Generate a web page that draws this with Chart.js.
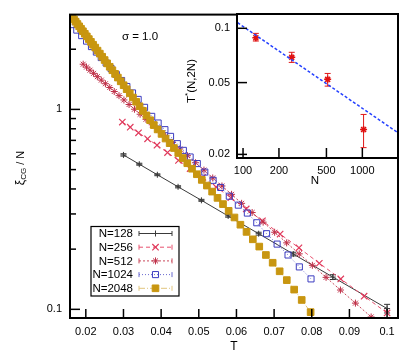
<!DOCTYPE html>
<html><head><meta charset="utf-8">
<script src="https://cdn.jsdelivr.net/npm/chart.js@4/dist/chart.umd.min.js"></script>
<style>
html,body{margin:0;padding:0;background:#fff;}
#wrap{position:relative;width:415px;height:356px;overflow:hidden;}
#wrap canvas{position:absolute;left:0;top:0;}
#inset{pointer-events:none;}
</style></head><body>
<div id="wrap"><canvas id="main" width="415" height="356"></canvas><canvas id="inset" width="415" height="356"></canvas></div>
<script>
// ---------------- data (main plot) ----------------
const seriesLabels = ['N=128','N=256','N=512','N=1024','N=2048'];

const T128 = [0.0300,0.0342,0.0390,0.0445,0.0507,0.0578,0.0659,0.0751,0.0856,0.1000];
const Y128 = [0.592,0.532,0.471,0.410,0.351,0.293,0.239,0.189,0.145,0.1009];
const E128 = [0.008,0.006,0.005,0.005,0.004,0.004,0.004,0.004,0.004,0.005];

const T256 = [0.0297,0.0318,0.0340,0.0364,0.0389,0.0417,0.0446,0.0477,0.0510,0.0546,0.0585,0.0626,0.0669,0.0716,0.0766,0.0820,0.0877,0.0939,0.1000];
const Y256 = [0.864,0.815,0.764,0.713,0.662,0.608,0.556,0.506,0.457,0.409,0.362,0.318,0.277,0.238,0.203,0.170,0.142,0.1164,0.0959];

const T512 = [0.01930,0.02018,0.02110,0.02206,0.02306,0.02411,0.02521,0.02635,0.02755,0.02881,0.03012,0.03149,0.03292,0.03442,0.03598,0.03762,0.03933,0.04112,0.04299,0.04495,0.04699,0.04913,0.05137,0.05370,0.05615,0.05870,0.06137,0.06417,0.06709,0.07014,0.07333,0.07667,0.08016,0.08380,0.08762,0.09160,0.09577];
const Y512 = [1.683,1.628,1.571,1.515,1.458,1.401,1.344,1.287,1.229,1.172,1.115,1.058,1.002,0.946,0.892,0.838,0.785,0.733,0.683,0.634,0.587,0.541,0.497,0.454,0.414,0.376,0.339,0.305,0.273,0.243,0.215,0.1895,0.166,0.1445,0.1249,0.1074,0.0916];

const T1024 = [0.0163,0.0176,0.0189,0.0202,0.0215,0.0228,0.0241,0.0254,0.0267,0.0281,0.0295,0.0309,0.0324,0.0339,0.0356,0.0375,0.0392,0.0410,0.0425,0.0443,0.0459,0.0477,0.0496,0.0516,0.0538,0.0558,0.0581,0.0605,0.0629,0.0654,0.0680,0.0708,0.0737,0.0767,0.0798];
const Y1024 = [2.655,2.493,2.339,2.196,2.062,1.935,1.817,1.706,1.601,1.495,1.395,1.302,1.209,1.122,1.024,0.923,0.855,0.792,0.733,0.674,0.624,0.578,0.536,0.486,0.442,0.407,0.368,0.332,0.303,0.271,0.239,0.212,0.187,0.163,0.142];

const T2048 = [0.01600,0.01643,0.01686,0.01731,0.01777,0.01824,0.01873,0.01923,0.01974,0.02026,0.02080,0.02136,0.02193,0.02251,0.02311,0.02372,0.02435,0.02500,0.02567,0.02635,0.02705,0.02777,0.02851,0.02927,0.03005,0.03085,0.03167,0.03251,0.03337,0.03426,0.03517,0.03611,0.03707,0.03806,0.03907,0.04011,0.04118,0.04227,0.04340,0.04455,0.04574,0.04695,0.04820,0.04949,0.05080,0.05215,0.05354,0.05497,0.05643,0.05793,0.05947,0.06105,0.06268,0.06435,0.06606,0.06782,0.06962,0.07147,0.07337,0.07533,0.07733,0.07970];
const Y2048 = [2.962,2.889,2.818,2.747,2.675,2.604,2.532,2.460,2.389,2.319,2.248,2.177,2.106,2.038,1.968,1.901,1.834,1.766,1.699,1.634,1.570,1.506,1.443,1.382,1.321,1.262,1.204,1.147,1.092,1.037,0.984,0.933,0.883,0.835,0.794,0.754,0.715,0.678,0.641,0.605,0.571,0.538,0.505,0.474,0.444,0.416,0.388,0.361,0.336,0.311,0.288,0.265,0.244,0.224,0.206,0.187,0.171,0.155,0.140,0.1255,0.1114,0.0968];

const xTickVals = [0.02,0.03,0.04,0.05,0.06,0.07,0.08,0.09,0.1];
const xTickLabels = ['0.02','0.03','0.04','0.05','0.06','0.07','0.08','0.09','0.1'];
const yTickVals = [0.1,1];
const yTickLabels = ['0.1','1'];
const yMinorVals = [0.2,0.3,0.4,0.5,0.6,0.7,0.8,0.9,2];

// ---------------- data (inset) ----------------
const insetN = [128,256,512,1024];
const insetT = [0.0887,0.0690,0.0521,0.0275];
const insetLo = [0.0850,0.0647,0.0478,0.0218];
const insetHi = [0.0937,0.0736,0.0562,0.0333];
const fitN = [90,2000];
const fitT = [0.1074,0.0263];
const inXTickVals = [100,200,500,1000];
const inXTickLabels = ['100','200','500','1000'];
const inYTickVals = [0.02,0.05,0.1];
const inYTickLabels = ['0.02','0.05','0.1'];

// ---------------- helpers ----------------
const FONT = '"Liberation Sans", Arial, Helvetica, sans-serif';
Chart.defaults.font.family = FONT;
Chart.defaults.color = '#000';

function pts(xs, ys){ return xs.map((x,i)=>({x:x, y:ys[i]})); }
function seg(ctx,x1,y1,x2,y2){ ctx.beginPath(); ctx.moveTo(x1,y1); ctx.lineTo(x2,y2); ctx.stroke(); }
function drawMarker(ctx, ds, x, y){
  ctx.save();
  ctx.setLineDash([]);
  ctx.strokeStyle = ds.pointBorderColor || ds.borderColor;
  ctx.fillStyle = ds.pointBackgroundColor || 'rgba(0,0,0,0)';
  ctx.lineWidth = ds.pointBorderWidth || 1;
  Chart.helpers.drawPoint(ctx, {pointStyle: ds.pointStyle, radius: ds.pointRadius, borderWidth: ds.pointBorderWidth || 1, rotation: 0}, x, y);
  ctx.restore();
}
function richText(ctx, parts, cx, cy){
  // parts: [text, fontSize, shift]
  let total = 0;
  parts.forEach(p=>{ ctx.font = p[1]+'px '+FONT; total += ctx.measureText(p[0]).width; });
  let x = cx - total/2;
  ctx.textAlign = 'left'; ctx.textBaseline = 'middle';
  parts.forEach(p=>{ ctx.font = p[1]+'px '+FONT; ctx.fillText(p[0], x, cy + p[2]); x += ctx.measureText(p[0]).width; });
}

// ---------------- main chart ----------------
const mainDeco = {
  id: 'mainDeco',
  beforeDatasetsDraw(chart){
    const {ctx, scales:{x, y}} = chart;
    ctx.save();
    ctx.strokeStyle = '#333'; ctx.lineWidth = 1;
    T128.forEach((t,i)=>{
      const px = x.getPixelForValue(t);
      const p1 = y.getPixelForValue(Y128[i]-E128[i]);
      const p2 = y.getPixelForValue(Y128[i]+E128[i]);
      seg(ctx, px, p1, px, p2);
      seg(ctx, px-3, p1, px+3, p1);
      seg(ctx, px-3, p2, px+3, p2);
    });
    ctx.restore();
  },
  afterDraw(chart){
    const {ctx, chartArea:a, scales:{x, y}} = chart;
    ctx.save();
    ctx.strokeStyle = '#000';
    ctx.lineWidth = 1.5;
    xTickVals.forEach(v=>{ const px = x.getPixelForValue(v); seg(ctx, px, a.bottom, px, a.bottom-9); });
    yTickVals.forEach(v=>{ const py = y.getPixelForValue(v); seg(ctx, a.left, py, a.left+10, py); });
    yMinorVals.forEach(v=>{ const py = y.getPixelForValue(v); seg(ctx, a.left, py, a.left+6, py); });
    ctx.lineWidth = 2;
    ctx.strokeRect(a.left, a.top, a.right-a.left, a.bottom-a.top);

    // axis titles and annotation
    ctx.fillStyle = '#000';
    richText(ctx, [['T',12,0]], 234, 347);
    richText(ctx, [['\u03c3 = 1.0',11.5,0]], 140, 37);
    ctx.save();
    ctx.translate(21, 168); ctx.rotate(-Math.PI/2);
    richText(ctx, [['\u03be',12,0],['CG',8,3],[' / N',11,0]], 0, 0);
    ctx.restore();

    // legend
    const bx = 91, by = 226.5, bw = 88, bh = 69.5;
    ctx.fillStyle = '#fff'; ctx.fillRect(bx, by, bw, bh);
    ctx.lineWidth = 1.2; ctx.strokeStyle = '#000'; ctx.strokeRect(bx, by, bw, bh);
    const rows = [233.5,247.2,260.9,274.6,288.3];
    chart.data.datasets.forEach((ds,i)=>{
      const yy = rows[i];
      ctx.fillStyle = '#000'; ctx.font = '11.5px '+FONT; ctx.textAlign = 'right'; ctx.textBaseline = 'middle';
      ctx.fillText(ds.label, 133, yy+0.5);
      ctx.strokeStyle = ds.borderColor; ctx.lineWidth = 1;
      ctx.setLineDash(ds.borderDash || []);
      seg(ctx, 139, yy, 172, yy);
      ctx.setLineDash([]);
      seg(ctx, 139, yy-2.5, 139, yy+2.5);
      seg(ctx, 172, yy-2.5, 172, yy+2.5);
      drawMarker(ctx, ds, 155.5, yy);
    });
    ctx.restore();
  }
};

new Chart(document.getElementById('main'), {
  type: 'line',
  data: { datasets: [
    { label: seriesLabels[0], data: pts(T128,Y128), order: 5,
      borderColor: '#3a3a3a', borderWidth: 1, pointStyle: 'cross', pointRadius: 3,
      pointBorderColor: '#3a3a3a', pointBorderWidth: 1 },
    { label: seriesLabels[1], data: pts(T256,Y256), order: 4,
      borderColor: '#e8506e', borderWidth: 1, borderDash: [4,3], pointStyle: 'crossRot', pointRadius: 4.5,
      pointBorderColor: '#e03a5c', pointBorderWidth: 1.2 },
    { label: seriesLabels[2], data: pts(T512,Y512), order: 3,
      borderColor: '#c8485a', borderWidth: 1, borderDash: [2,2], pointStyle: 'star', pointRadius: 3.5,
      pointBorderColor: '#bf3048', pointBorderWidth: 1 },
    { label: seriesLabels[3], data: pts(T1024,Y1024), order: 2,
      borderColor: '#6a6ad0', borderWidth: 1, borderDash: [1,2], pointStyle: 'rect', pointRadius: 4.3,
      pointBorderColor: '#3c3cc0', pointBackgroundColor: 'rgba(0,0,0,0)', pointBorderWidth: 1 },
    { label: seriesLabels[4], data: pts(T2048,Y2048), order: 1,
      borderColor: '#e2c57e', borderWidth: 1, borderDash: [6,2,1,2], pointStyle: 'rect', pointRadius: 4.7,
      pointBorderColor: '#c89610', pointBackgroundColor: '#c89610', pointBorderWidth: 1 }
  ]},
  options: {
    responsive: false, animation: false, devicePixelRatio: 1,
    layout: { padding: { left: 0, top: 14, right: 17, bottom: 0 } },
    plugins: { legend: { display: false }, tooltip: { enabled: false } },
    elements: { line: { tension: 0, fill: false } },
    scales: {
      x: { type: 'linear', min: 0.0158, max: 0.1029,
        grid: { display: false, drawTicks: false }, border: { display: false },
        ticks: { padding: 7, font: { size: 11 }, color: '#000', maxRotation: 0, autoSkip: false,
          callback: (v)=>{ const i = xTickVals.indexOf(v); return i >= 0 ? xTickLabels[i] : ''; } },
        afterBuildTicks: s => { s.ticks = xTickVals.map(v=>({value: v})); },
        afterFit: s => { s.height = 38; } },
      y: { type: 'logarithmic', min: 0.0905, max: 2.98,
        grid: { display: false, drawTicks: false }, border: { display: false },
        ticks: { padding: 8, font: { size: 11 }, color: '#000', autoSkip: false,
          callback: (v)=>{ const i = yTickVals.indexOf(v); return i >= 0 ? yTickLabels[i] : ''; } },
        afterBuildTicks: s => { s.ticks = yTickVals.map(v=>({value: v})); },
        afterFit: s => { s.width = 70; } }
    }
  },
  plugins: [mainDeco]
});

// ---------------- inset chart ----------------
const insetDeco = {
  id: 'insetDeco',
  beforeDraw(chart){
    const {ctx, chartArea:a} = chart;
    ctx.save(); ctx.fillStyle = '#fff'; ctx.fillRect(a.left, a.top, a.right-a.left, a.bottom-a.top); ctx.restore();
  },
  beforeDatasetsDraw(chart){
    const {ctx, scales:{x, y}} = chart;
    ctx.save();
    ctx.strokeStyle = '#e01818'; ctx.lineWidth = 1;
    insetN.forEach((n,i)=>{
      const px = x.getPixelForValue(n);
      const p1 = y.getPixelForValue(insetLo[i]);
      const p2 = y.getPixelForValue(insetHi[i]);
      seg(ctx, px, p1, px, p2);
      seg(ctx, px-3, p1, px+3, p1);
      seg(ctx, px-3, p2, px+3, p2);
    });
    ctx.restore();
  },
  afterDraw(chart){
    const {ctx, chartArea:a, scales:{x, y}} = chart;
    ctx.save();
    ctx.strokeStyle = '#000'; ctx.lineWidth = 1.5;
    inXTickVals.forEach(v=>{ const px = x.getPixelForValue(v); seg(ctx, px, a.bottom, px, a.bottom-10); });
    inYTickVals.forEach(v=>{ const py = y.getPixelForValue(v); seg(ctx, a.left, py, a.left+10, py); });
    ctx.lineWidth = 2;
    ctx.strokeRect(a.left, a.top, a.right-a.left, a.bottom-a.top);
    ctx.fillStyle = '#000';
    richText(ctx, [['N',11.5,0]], 315, 181);
    ctx.save();
    ctx.translate(192, 81); ctx.rotate(-Math.PI/2);
    richText(ctx, [['T',11.5,0],['*',8,-4],['(N,2N)',11.5,0]], 0, 0);
    ctx.restore();
    ctx.restore();
  }
};

new Chart(document.getElementById('inset'), {
  type: 'line',
  data: { datasets: [
    { label: 'fit', data: pts(fitN, fitT), borderColor: '#2440ff', borderWidth: 1.5, borderDash: [3,2], pointRadius: 0 },
    { label: 'T*(N,2N)', data: pts(insetN, insetT), showLine: false, pointStyle: 'star', pointRadius: 3.5,
      pointBorderColor: '#e01010', pointBackgroundColor: '#e01010', pointBorderWidth: 1.5, borderColor: '#e01010' }
  ]},
  options: {
    responsive: false, animation: false, devicePixelRatio: 1,
    layout: { padding: { left: 177, top: 14, right: 17, bottom: 158 } },
    plugins: { legend: { display: false }, tooltip: { enabled: false } },
    scales: {
      x: { type: 'logarithmic', min: 89, max: 1990,
        grid: { display: false, drawTicks: false }, border: { display: false },
        ticks: { padding: 6, font: { size: 11 }, color: '#000', maxRotation: 0, autoSkip: false,
          callback: (v)=>{ const i = inXTickVals.indexOf(v); return i >= 0 ? inXTickLabels[i] : ''; } },
        afterBuildTicks: s => { s.ticks = inXTickVals.map(v=>({value: v})); },
        afterFit: s => { s.height = 40; } },
      y: { type: 'logarithmic', min: 0.0191, max: 0.12,
        grid: { display: false, drawTicks: false }, border: { display: false },
        ticks: { padding: 7, font: { size: 11 }, color: '#000', autoSkip: false,
          callback: (v)=>{ const i = inYTickVals.indexOf(v); return i >= 0 ? inYTickLabels[i] : ''; } },
        afterBuildTicks: s => { s.ticks = inYTickVals.map(v=>({value: v})); },
        afterFit: s => { s.width = 60; } }
    }
  },
  plugins: [insetDeco]
});
</script>
</body></html>
